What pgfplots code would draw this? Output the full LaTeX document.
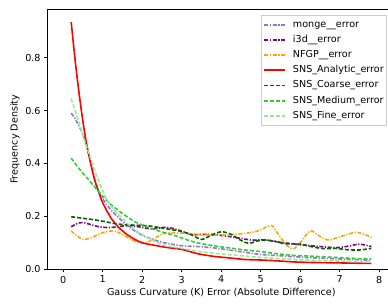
\documentclass[border=0pt]{standalone}
\usepackage{pgfplots}
\pgfplotsset{compat=1.18}
\usepackage{fontspec}
\setmainfont{DejaVu Sans}
\definecolor{cmonge}{HTML}{9370DB}
\definecolor{ci3d}{HTML}{800080}
\definecolor{cnfgp}{HTML}{FFA500}
\definecolor{canal}{HTML}{FF0000}
\definecolor{ccoarse}{HTML}{006400}
\definecolor{cmedium}{HTML}{32CD32}
\definecolor{cfine}{HTML}{90EE90}
\tikzset{
  mpldash/.style={dash pattern=on 4pt off 2pt},
  mpldashdot/.style={dash pattern=on 4pt off 1.6pt on 1.2pt off 1.6pt},
}
\begin{document}
\fontsize{9.6}{11.5}\selectfont
\begin{tikzpicture}
\begin{axis}[
  scale only axis,
  width=347.6pt, height=259.3pt,
  xmin=-0.4, xmax=8.4, ymin=0, ymax=0.982,
  axis line style={line width=0.8pt},
  xtick={0,1,2,3,4,5,6,7,8},
  ytick={0,0.2,0.4,0.6,0.8},
  yticklabel style={/pgf/number format/.cd,fixed,fixed zerofill,precision=1},
  /pgf/number format/assume math mode=true,
  tick align=outside,
  major tick length=3.5pt,
  tick style={line width=0.8pt,black},
  xtick pos=bottom, ytick pos=left,
  xlabel={Gauss Curvature (K) Error (Absolute Difference)},
  ylabel={Frequency Density},
  xlabel style={yshift=2pt},
  ylabel style={yshift=-1pt},
  legend cell align=left,
  legend style={at={(0.9738,0.9796)},anchor=north east,draw=black!20,
    inner xsep=2pt,inner ysep=5.2pt,row sep=5.7pt,
    nodes={inner sep=0pt,text height=7.2pt,text depth=2.2pt},
    /tikz/every odd column/.style={column sep=7pt}},
  legend image code/.code={\draw[line width=1.9pt] (0pt,0pt) -- (20.6pt,0pt);},
  every axis plot/.append style={line width=1.6pt},
]
\addplot[cmonge,mpldashdot,smooth] table {
0.2 0.59
0.3 0.57
0.4 0.54
0.5 0.51
0.6 0.46
0.7 0.40
0.8 0.335
0.9 0.295
1.0 0.265
1.2 0.225
1.5 0.18
1.8 0.145
2.0 0.128
2.3 0.11
2.6 0.098
3.0 0.088
3.4 0.085
3.8 0.08
4.2 0.072
4.6 0.063
5.0 0.055
5.5 0.05
6.0 0.045
6.5 0.041
7.0 0.038
7.5 0.035
7.8 0.033
};
\addlegendentry{monge\_\_error}
\addplot[ci3d,mpldashdot,smooth] table {
0.2 0.16
0.35 0.172
0.5 0.176
0.7 0.168
0.9 0.16
1.2 0.157
1.6 0.164
1.9 0.16
2.25 0.152
2.6 0.158
2.9 0.148
3.25 0.131
3.75 0.131
4.25 0.122
4.75 0.11
5.1 0.11
5.5 0.101
6.0 0.092
6.5 0.085
6.9 0.081
7.2 0.086
7.5 0.094
7.8 0.085
};
\addlegendentry{i3d\_\_error}
\addplot[cnfgp,mpldashdot,smooth] table {
0.2 0.144
0.35 0.125
0.5 0.112
0.7 0.118
0.95 0.135
1.2 0.144
1.4 0.138
1.6 0.122
1.85 0.104
2.1 0.1
2.3 0.115
2.5 0.132
2.7 0.137
3.1 0.135
3.6 0.129
4.1 0.129
4.6 0.135
4.95 0.145
5.15 0.16
5.28 0.164
5.45 0.13
5.65 0.09
5.82 0.076
6.0 0.1
6.25 0.144
6.45 0.128
6.7 0.11
7.0 0.122
7.4 0.139
7.6 0.132
7.8 0.12
};
\addlegendentry{NFGP\_\_error}
\addplot[canal,solid,smooth] table {
0.2 0.935
0.3 0.79
0.4 0.665
0.5 0.555
0.6 0.465
0.7 0.395
0.8 0.335
0.9 0.29
1.0 0.25
1.2 0.195
1.4 0.158
1.6 0.132
1.8 0.113
2.0 0.099
2.3 0.09
2.6 0.082
3.0 0.074
3.4 0.058
3.8 0.048
4.2 0.042
4.6 0.036
5.0 0.034
5.4 0.031
5.8 0.027
6.2 0.025
6.6 0.024
7.0 0.023
7.4 0.022
7.8 0.021
};
\addlegendentry{SNS\_Analytic\_error}
\addplot[ccoarse,mpldash,smooth] table {
0.2 0.198
0.5 0.192
0.8 0.186
1.1 0.178
1.4 0.17
1.8 0.166
2.1 0.164
2.4 0.158
2.7 0.15
3.0 0.142
3.25 0.129
3.5 0.112
3.75 0.128
4.0 0.141
4.25 0.131
4.5 0.108
4.7 0.097
4.9 0.106
5.1 0.11
5.35 0.105
5.6 0.096
6.0 0.094
6.3 0.084
6.6 0.077
6.9 0.078
7.2 0.073
7.5 0.072
7.8 0.078
};
\addlegendentry{SNS\_Coarse\_error}
\addplot[cmedium,mpldash,smooth] table {
0.2 0.42
0.4 0.38
0.6 0.345
0.8 0.31
1.0 0.275
1.2 0.245
1.5 0.21
1.8 0.18
2.1 0.16
2.5 0.14
2.8 0.128
3.1 0.112
3.4 0.099
3.8 0.088
4.2 0.08
4.6 0.072
5.0 0.066
5.4 0.058
5.8 0.052
6.2 0.049
6.6 0.046
7.0 0.043
7.4 0.04
7.8 0.038
};
\addlegendentry{SNS\_Medium\_error}
\addplot[cfine,mpldash,smooth] table {
0.2 0.645
0.3 0.6
0.4 0.555
0.5 0.505
0.6 0.46
0.7 0.415
0.8 0.37
0.9 0.33
1.0 0.295
1.1 0.265
1.2 0.24
1.5 0.19
1.8 0.15
2.0 0.13
2.3 0.105
2.6 0.088
3.0 0.078
3.4 0.067
3.8 0.06
4.2 0.054
4.6 0.049
5.0 0.044
5.5 0.039
6.0 0.035
6.5 0.032
7.0 0.03
7.5 0.028
7.8 0.027
};
\addlegendentry{SNS\_Fine\_error}
\coordinate (ll) at (rel axis cs:0,0);
\end{axis}
\pgfresetboundingbox
\path[shift={(ll)}] (-47.5pt,-35pt) rectangle (340.5pt,269pt);
\end{tikzpicture}
\end{document}
